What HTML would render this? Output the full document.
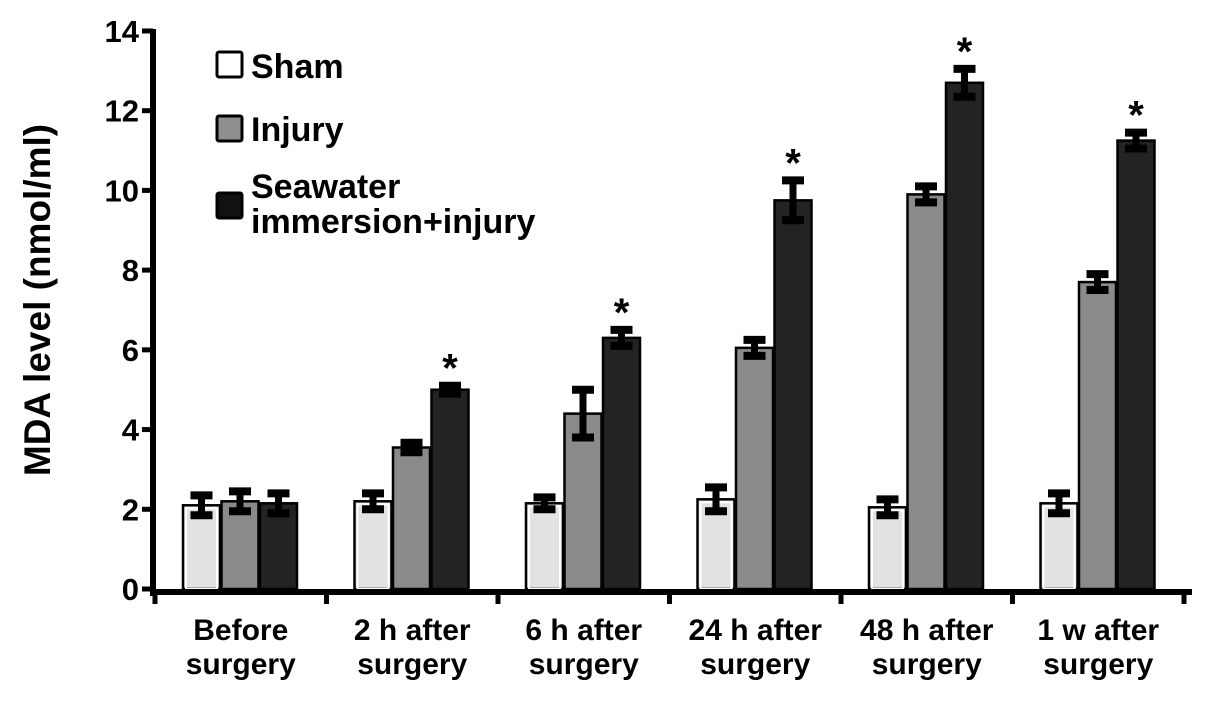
<!DOCTYPE html>
<html><head><meta charset="utf-8"><style>
body{margin:0;background:#fff}
text{font-family:"Liberation Sans",Arial,sans-serif;font-weight:bold;fill:#000}
</style></head><body>
<svg id="c" width="1205" height="697"></svg>
<script>
const categories=[["Before","surgery"],["2 h after","surgery"],["6 h after","surgery"],["24 h after","surgery"],["48 h after","surgery"],["1 w after","surgery"]];
const shamVals=[2.1,2.2,2.15,2.25,2.05,2.15];
const shamErr=[0.25,0.2,0.15,0.3,0.2,0.25];
const injuryVals=[2.2,3.55,4.4,6.05,9.9,7.7];
const injuryErr=[0.25,0.12,0.6,0.2,0.2,0.2];
const swVals=[2.15,5.0,6.3,9.75,12.7,11.25];
const swErr=[0.25,0.1,0.2,0.5,0.35,0.2];
const sig=[false,true,true,true,true,true];
const yTicks=[0,2,4,6,8,10,12,14];
const NS="http://www.w3.org/2000/svg";
const svg=document.getElementById('c');
function mk(t,a,p){const e=document.createElementNS(NS,t);for(const k in a)e.setAttribute(k,a[k]);(p||svg).appendChild(e);return e;}
const y0=589,ppu=39.86;
const Y=v=>y0-v*ppu;
const gx0=155,gw=171.5;
const X=(g,s)=>gx0+g*gw+28+s*38.5;
const series=[{v:shamVals,e:shamErr,f:"#e2e2e2",n:"sham"},{v:injuryVals,e:injuryErr,f:"#8a8a8a",n:"injury"},{v:swVals,e:swErr,f:"#232323",n:"seawater"}];
series.forEach((s,si)=>{s.v.forEach((v,g)=>{
  const x=X(g,si);
  const r=mk('rect',{x:x,y:Y(v),width:37,height:y0-Y(v),fill:s.f,stroke:"#000","stroke-width":2.5});
  
  
  if(si===0){mk('rect',{x:x+3,y:Y(v)+3,width:31,height:y0-Y(v)-3,fill:"none",stroke:"#fff","stroke-width":2});}
  const cx=x+18.5,t=Y(v+s.e[g]),b=Y(v-s.e[g]);
  const eb=mk('g',{stroke:"#000"});
  
  
  mk('line',{x1:cx,x2:cx,y1:t,y2:b,"stroke-width":7},eb);
  mk('line',{x1:cx-11,x2:cx+11,y1:t,y2:t,"stroke-width":8},eb);
  mk('line',{x1:cx-11,x2:cx+11,y1:b,y2:b,"stroke-width":8},eb);
  if(si===2&&sig[g]){const st=mk('text',{x:cx,y:t-4,"text-anchor":"middle","font-size":40});st.textContent="*";
    }
});});
const ya=mk('line',{x1:153,x2:153,y1:29,y2:596,stroke:"#000","stroke-width":6});

const xa=mk('line',{x1:150,x2:1192,y1:592,y2:592,stroke:"#000","stroke-width":6});

yTicks.forEach(v=>{
  mk('line',{x1:142,x2:153,y1:Y(v),y2:Y(v),stroke:"#000","stroke-width":5});
  const t=mk('text',{x:139,y:Y(v)+11,"text-anchor":"end","font-size":31});t.textContent=v;
  
});
for(let g=0;g<=categories.length;g++){mk('line',{x1:gx0+g*gw,x2:gx0+g*gw,y1:592,y2:604,stroke:"#000","stroke-width":5});}
categories.forEach((c,g)=>{
  const cx=gx0+g*gw+gw/2;
  const t=mk('text',{x:cx,y:640,"text-anchor":"middle","font-size":30});
  
  mk('tspan',{x:cx},t).textContent=c[0];
  mk('tspan',{x:cx,dy:34},t).textContent=c[1];
});
const yt=mk('text',{x:0,y:0,"text-anchor":"middle","font-size":37,transform:"translate(50,300) rotate(-90)"});
yt.textContent="MDA level (nmol/ml)";

const lg=mk('g',{});

[["#fff",52,78,["Sham"]],["#8e8e8e",116,141,["Injury"]],["#111",193,198,["Seawater","immersion+injury"]]].forEach((l,i)=>{
  mk('rect',{x:217,y:l[1],width:25,height:25,fill:l[0],stroke:"#000","stroke-width":3,rx:2},lg);
  const t=mk('text',{x:251,y:l[2],"font-size":34},lg);
  l[3].forEach((s,j)=>{mk('tspan',{x:251,dy:j?35:0},t).textContent=s;});
});
</script>
</body></html>
